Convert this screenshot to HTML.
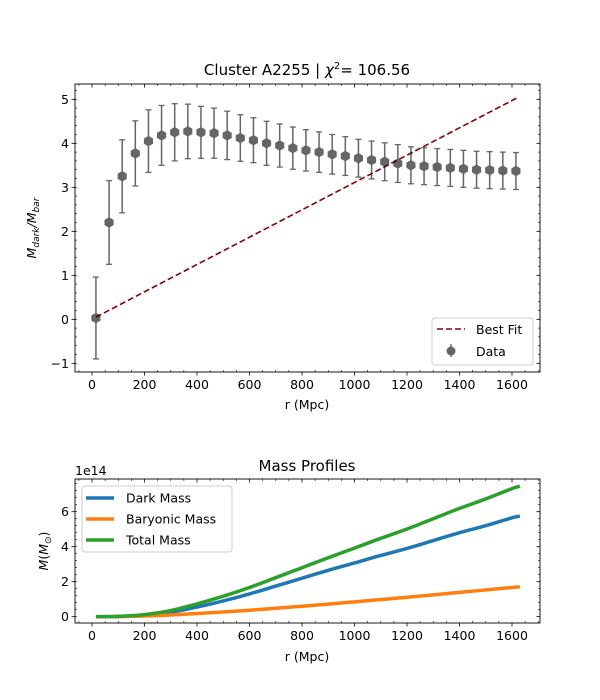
<!DOCTYPE html>
<html><head><meta charset="utf-8"><style>
body{margin:0;background:#fff}
svg{display:block;font-family:"DejaVu Sans","Liberation Sans",sans-serif}
</style></head><body>
<svg id="fig" width="600" height="700" viewBox="0 0 600 700">
<g id="top"></g>
<g id="bot"></g>
</svg>
<script>
// ---- data: top panel ----
const radii = [15,65,115,165,215,265,315,365,415,465,515,565,615,665,715,765,815,865,915,965,1015,1065,1115,1165,1215,1265,1315,1365,1415,1465,1515,1565,1615];
const ratioValues = [0.03,2.2,3.25,3.77,4.05,4.18,4.25,4.27,4.25,4.23,4.18,4.12,4.07,4.0,3.95,3.89,3.84,3.8,3.75,3.71,3.66,3.62,3.58,3.54,3.5,3.48,3.46,3.44,3.42,3.4,3.39,3.38,3.37];
const ratioErrors = [0.93,0.95,0.83,0.74,0.71,0.68,0.65,0.62,0.59,0.57,0.55,0.53,0.51,0.5,0.49,0.48,0.47,0.46,0.45,0.44,0.43,0.43,0.43,0.43,0.42,0.42,0.42,0.42,0.42,0.42,0.42,0.42,0.42];
const fitR = [15,1625];
const fitValues = [0.05,5.05];
const xTicks = [0,200,400,600,800,1000,1200,1400,1600];
const yTicksTop = [-1,0,1,2,3,4,5];
// ---- data: bottom panel ----
const massR = [15,100,200,300,400,500,600,700,800,900,1000,1100,1200,1300,1400,1500,1600,1630];
const darkMass = [0,0.01,0.08,0.25,0.55,0.9,1.3,1.75,2.2,2.65,3.07,3.5,3.9,4.35,4.8,5.2,5.65,5.75];
const baryonMass = [0,0.01,0.04,0.1,0.18,0.27,0.37,0.48,0.6,0.72,0.85,0.98,1.11,1.25,1.39,1.53,1.67,1.71];
const yTicksBot = [0,2,4,6];

const NS="http://www.w3.org/2000/svg";
function mk(parent,tag,attrs,text){const e=document.createElementNS(NS,tag);for(const k in attrs)e.setAttribute(k,attrs[k]);if(text!==undefined)e.textContent=text;parent.appendChild(e);return e;}
const sx = r => 92 + r*0.2625;
const syT = v => 319.3 - v*44;
const syB = v => 616.7 - v*17.5;

function axes(g,x0,y0,x1,y1,sy,yt,ymin,ymax,ystepMinor){
  xTicks.forEach(t=>{
    const x=sx(t);
    mk(g,'line',{x1:x,x2:x,y1:y1,y2:y1+3.5,stroke:'#000','stroke-width':0.8});
    mk(g,'line',{x1:x,x2:x,y1:y0,y2:y0+3.5,stroke:'#000','stroke-width':0.8});
    const l=mk(g,'text',{x:x,y:y1+17,'font-size':12.5,'text-anchor':'middle'},String(t));
    
    
  });
  for(let t=-50;t<=1700;t+=50){const x=sx(t);if(x<=x0||x>=x1||t%200===0)continue;
    mk(g,'line',{x1:x,x2:x,y1:y1,y2:y1-2,stroke:'#000','stroke-width':0.6});
    mk(g,'line',{x1:x,x2:x,y1:y0,y2:y0+2,stroke:'#000','stroke-width':0.6});}
  yt.forEach(t=>{const y=sy(t);
    mk(g,'line',{x1:x0-3.5,x2:x0,y1:y,y2:y,stroke:'#000','stroke-width':0.8});
    mk(g,'line',{x1:x1-3.5,x2:x1,y1:y,y2:y,stroke:'#000','stroke-width':0.8});
    const l=mk(g,'text',{x:x0-6,y:y+4.5,'font-size':12.5,'text-anchor':'end'},t<0?'\u2212'+(-t):String(t));
    
    
  });
  for(let v=ymin;v<=ymax;v+=ystepMinor){const y=sy(v);if(y<=y0||y>=y1)continue;
    mk(g,'line',{x1:x0,x2:x0+2,y1:y,y2:y,stroke:'#000','stroke-width':0.6});
    mk(g,'line',{x1:x1-2,x2:x1,y1:y,y2:y,stroke:'#000','stroke-width':0.6});}
  const f=mk(g,'rect',{x:x0,y:y0,width:x1-x0,height:y1-y0,fill:'none',stroke:'#000','stroke-width':0.9});
  
  
}

// ---- top panel ----
const T=document.getElementById('top');
axes(T,75,84,540,372,syT,yTicksTop,-1.2,5.4,0.2);
const tt=mk(T,'text',{x:307,y:75,'font-size':15,'text-anchor':'middle'});


tt.innerHTML='Cluster A2255 | <tspan font-style="italic">χ</tspan><tspan font-size="10" dy="-6">2</tspan><tspan dy="6">= 106.56</tspan>';
const xl=mk(T,'text',{x:307,y:409,'font-size':12.5,'text-anchor':'middle'},'r (Mpc)');


const yl=mk(T,'text',{x:0,y:0,'font-size':12.5,'text-anchor':'middle',transform:'translate(36,228) rotate(-90)'});


yl.innerHTML='<tspan font-style="italic">M</tspan><tspan font-size="9" font-style="italic" dy="3">dark</tspan><tspan dy="-3" font-style="italic">/M</tspan><tspan font-size="9" font-style="italic" dy="3">bar</tspan>';
const fit=mk(T,'line',{x1:sx(fitR[0]),y1:syT(fitValues[0]),x2:sx(fitR[1]),y2:syT(fitValues[1]),stroke:'#8b0000','stroke-width':1.6,'stroke-dasharray':'6,3'});


radii.forEach((r,i)=>{
  const x=sx(r),y=syT(ratioValues[i]),e=ratioErrors[i];
  const g=mk(T,'g',{opacity:0.6});
  
  
  mk(g,'line',{x1:x,x2:x,y1:syT(ratioValues[i]-e),y2:syT(ratioValues[i]+e),stroke:'#000','stroke-width':1.5});
  mk(g,'line',{x1:x-3,x2:x+3,y1:syT(ratioValues[i]-e),y2:syT(ratioValues[i]-e),stroke:'#000','stroke-width':1.3});
  mk(g,'line',{x1:x-3,x2:x+3,y1:syT(ratioValues[i]+e),y2:syT(ratioValues[i]+e),stroke:'#000','stroke-width':1.3});
  const pts=[];for(let k=0;k<6;k++){const a=Math.PI/6+k*Math.PI/3;pts.push((x+4.8*Math.cos(a)).toFixed(2)+','+(y+4.8*Math.sin(a)).toFixed(2));}
  mk(g,'polygon',{points:pts.join(' '),fill:'#000',stroke:'#000','stroke-width':0.8});
});
const lg=mk(T,'g',{});


mk(lg,'rect',{x:432,y:318,width:101,height:47,rx:3,fill:'#fff',stroke:'#ccc','stroke-width':1});
mk(lg,'line',{x1:437,x2:465,y1:329,y2:329,stroke:'#8b0000','stroke-width':1.6,'stroke-dasharray':'6,3'});
mk(lg,'text',{x:476,y:334,'font-size':12.5},'Best Fit');
const lgd=mk(lg,'g',{opacity:0.6});
mk(lgd,'line',{x1:451,x2:451,y1:344,y2:357,stroke:'#000','stroke-width':1.5});
mk(lgd,'circle',{cx:451,cy:351,r:4.5,fill:'#000'});
mk(lg,'text',{x:476,y:356,'font-size':12.5},'Data');

// ---- bottom panel ----
const B=document.getElementById('bot');
axes(B,75,479,540,623,syB,yTicksBot,-0.4,7.8,0.4);
const bt=mk(B,'text',{x:307,y:471,'font-size':15,'text-anchor':'middle'},'Mass Profiles');


const off=mk(B,'text',{x:75,y:475,'font-size':12.5},'1e14');


const bxl=mk(B,'text',{x:307,y:661,'font-size':12.5,'text-anchor':'middle'},'r (Mpc)');


const byl=mk(B,'text',{x:0,y:0,'font-size':12.5,'text-anchor':'middle',transform:'translate(48,551) rotate(-90)'});


byl.innerHTML='<tspan font-style="italic">M</tspan>(<tspan font-style="italic">M</tspan><tspan font-size="9" dy="3">⊙</tspan><tspan dy="-3">)</tspan>';
const totalMass = darkMass.map((d,i)=>d+baryonMass[i]);
function path(vals){
  const p=massR.map((r,i)=>[sx(r),syB(vals[i])]);
  let d='M'+p[0][0].toFixed(2)+','+p[0][1].toFixed(2);
  for(let i=0;i<p.length-1;i++){
    const p0=p[i-1]||p[i],p1=p[i],p2=p[i+1],p3=p[i+2]||p2;
    const c1=[p1[0]+(p2[0]-p0[0])/6,p1[1]+(p2[1]-p0[1])/6];
    const c2=[p2[0]-(p3[0]-p1[0])/6,p2[1]-(p3[1]-p1[1])/6];
    d+=' C'+c1.map(v=>v.toFixed(2)).join(',')+' '+c2.map(v=>v.toFixed(2)).join(',')+' '+p2.map(v=>v.toFixed(2)).join(',');
  }
  return d;
}
[['dark-mass-line',darkMass,'#1f77b4'],['baryonic-mass-line',baryonMass,'#ff7f0e'],['total-mass-line',totalMass,'#2ca02c']].forEach(s=>{
  const p=mk(B,'path',{d:path(s[1]),fill:'none',stroke:s[2],'stroke-width':3.5,'stroke-linejoin':'round'});
  
  
});
const lg2=mk(B,'g',{});


mk(lg2,'rect',{x:82,y:486,width:150,height:66,rx:3,fill:'#fff',stroke:'#ccc','stroke-width':1});
[['Dark Mass','#1f77b4'],['Baryonic Mass','#ff7f0e'],['Total Mass','#2ca02c']].forEach((s,i)=>{
  const y=498+i*21;
  mk(lg2,'line',{x1:86,x2:114,y1:y,y2:y,stroke:s[1],'stroke-width':3.5});
  mk(lg2,'text',{x:126,y:y+4.5,'font-size':12.5},s[0]);
});
</script>
</body></html>
